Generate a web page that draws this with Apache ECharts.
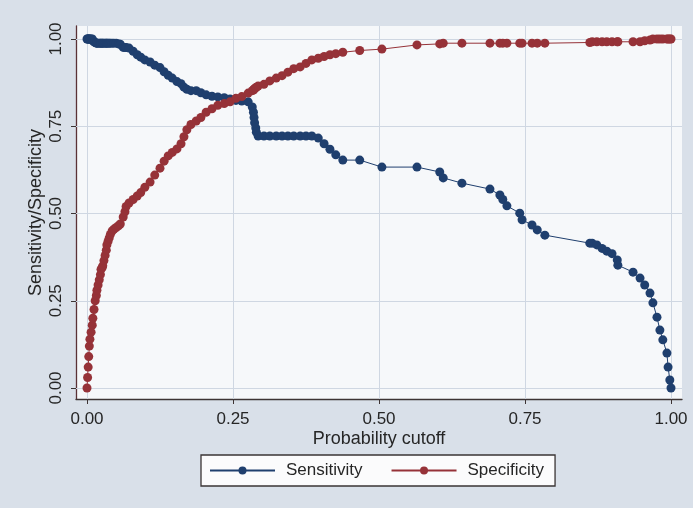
<!DOCTYPE html>
<html style="height: 100%">
<head>
<meta charset="utf-8">
<script src="https://cdn.jsdelivr.net/npm/echarts@6/dist/echarts.min.js"></script>
</head>
<body style="height: 100%; margin: 0; background: #d9e0e9">
<div id="container" style="width: 693px; height: 508px"></div>
<script>
// probability cutoffs (shared by both curves)
var cutoffs = [
  0.000, 0.001, 0.002, 0.003, 0.004, 0.005, 0.007, 0.009, 0.010, 0.012,
  0.014, 0.016, 0.017, 0.019, 0.021, 0.023, 0.024, 0.026, 0.027, 0.029,
  0.031, 0.033, 0.034, 0.036, 0.038, 0.040, 0.043, 0.046, 0.050, 0.054,
  0.057, 0.062, 0.065, 0.067, 0.072, 0.079, 0.086, 0.092, 0.099, 0.108,
  0.116, 0.125, 0.132, 0.139, 0.146, 0.154, 0.161, 0.166, 0.171, 0.178,
  0.187, 0.195, 0.204, 0.214, 0.224, 0.235, 0.245, 0.255, 0.265, 0.276,
  0.283, 0.285, 0.286, 0.287, 0.289, 0.290, 0.293, 0.303, 0.313, 0.324,
  0.334, 0.344, 0.354, 0.365, 0.375, 0.385, 0.396, 0.406, 0.416, 0.426,
  0.438, 0.467, 0.505, 0.565, 0.604, 0.610, 0.642, 0.690, 0.707, 0.712,
  0.719, 0.741, 0.745, 0.762, 0.771, 0.784, 0.861, 0.865, 0.873, 0.882,
  0.890, 0.899, 0.908, 0.909, 0.935, 0.947, 0.955, 0.964, 0.969, 0.976,
  0.981, 0.986, 0.993, 0.995, 0.998, 1.000
];

var sensitivity = [
  1.000, 1.000, 1.000, 1.000, 1.000, 1.000, 1.000, 1.000, 0.995, 0.992,
  0.990, 0.988, 0.988, 0.988, 0.988, 0.988, 0.988, 0.988, 0.988, 0.988,
  0.988, 0.988, 0.988, 0.988, 0.988, 0.988, 0.988, 0.988, 0.988, 0.986,
  0.985, 0.976, 0.976, 0.976, 0.974, 0.965, 0.955, 0.948, 0.940, 0.934,
  0.925, 0.918, 0.906, 0.896, 0.888, 0.878, 0.872, 0.862, 0.856, 0.852,
  0.852, 0.846, 0.840, 0.836, 0.834, 0.832, 0.828, 0.824, 0.822, 0.820,
  0.805, 0.790, 0.775, 0.760, 0.745, 0.733, 0.722, 0.722, 0.722, 0.722,
  0.722, 0.722, 0.722, 0.722, 0.722, 0.722, 0.716, 0.700, 0.684, 0.668,
  0.653, 0.653, 0.633, 0.633, 0.619, 0.602, 0.587, 0.570, 0.553, 0.540,
  0.522, 0.501, 0.482, 0.467, 0.453, 0.438, 0.415, 0.415, 0.410, 0.400,
  0.392, 0.385, 0.367, 0.352, 0.332, 0.315, 0.295, 0.272, 0.244, 0.203,
  0.166, 0.138, 0.100, 0.060, 0.023, 0.000
];

var specificity = [
  0.000, 0.030, 0.060, 0.090, 0.120, 0.140, 0.160, 0.180, 0.200, 0.225,
  0.250, 0.265, 0.280, 0.295, 0.310, 0.325, 0.340, 0.345, 0.350, 0.365,
  0.380, 0.395, 0.410, 0.420, 0.430, 0.440, 0.450, 0.455, 0.460, 0.465,
  0.470, 0.490, 0.505, 0.520, 0.530, 0.540, 0.550, 0.560, 0.575, 0.590,
  0.610, 0.630, 0.650, 0.665, 0.675, 0.685, 0.700, 0.720, 0.740, 0.755,
  0.765, 0.775, 0.790, 0.800, 0.810, 0.815, 0.820, 0.830, 0.835, 0.845,
  0.852, 0.854, 0.856, 0.858, 0.860, 0.862, 0.865, 0.870, 0.880, 0.888,
  0.895, 0.905, 0.915, 0.920, 0.930, 0.940, 0.945, 0.950, 0.955, 0.958,
  0.962, 0.967, 0.971, 0.983, 0.986, 0.988, 0.988, 0.988, 0.988, 0.988,
  0.988, 0.988, 0.988, 0.988, 0.988, 0.988, 0.990, 0.992, 0.992, 0.992,
  0.992, 0.992, 0.992, 0.992, 0.992, 0.992, 0.995, 0.997, 1.000, 1.000,
  1.000, 1.000, 1.000, 1.000, 1.000, 1.000
];

var tickValues = [0, 0.25, 0.5, 0.75, 1];

var font = '"Liberation Sans", Arial, sans-serif';
var textColor = '#262626';
var navy = '#1f3f6e';
var maroon = '#963238';

// Stata style: plot region a bit wider than 0..1
var xMin = -11 / 584, xMax = 1 + 11 / 584;
var yMin = -11 / 349, yMax = 1 + 13 / 349;

function pairs(ys) {
  return cutoffs.map(function (c, i) { return [c, ys[i]]; });
}

var gridLines = tickValues.map(function (v) { return { xAxis: v }; })
  .concat(tickValues.map(function (v) { return { yAxis: v }; }));

var myChart = echarts.init(document.getElementById('container'));

var option = {
  animation: false,
  backgroundColor: '#d9e0e9',
  textStyle: { fontFamily: font },
  grid: {
    left: 76, top: 26, width: 606, height: 373,
    show: true, backgroundColor: '#f6f8fa', borderWidth: 0
  },
  xAxis: {
    type: 'value', min: xMin, max: xMax,
    name: 'Probability cutoff', nameLocation: 'middle', nameGap: 31,
    nameMoveOverlap: false,
    nameTextStyle: { color: textColor, fontSize: 18, fontFamily: font },
    axisLine: { show: true, onZero: false, lineStyle: { color: '#3d3434', width: 1.3 } },
    axisTick: { show: true, length: 5, customValues: tickValues, lineStyle: { color: '#3d3434' } },
    axisLabel: {
      customValues: tickValues, color: textColor, fontSize: 17, margin: 12,
      formatter: function (v) { return v.toFixed(2); }
    },
    splitLine: { show: false }
  },
  yAxis: {
    type: 'value', min: yMin, max: yMax,
    name: 'Sensitivity/Specificity', nameLocation: 'middle', nameGap: 31,
    nameMoveOverlap: false,
    nameTextStyle: { color: textColor, fontSize: 18, fontFamily: font },
    axisLine: { show: true, onZero: false, lineStyle: { color: '#5a3236', width: 1.3 } },
    axisTick: { show: true, length: 5, customValues: tickValues, lineStyle: { color: '#3d3434' } },
    axisLabel: {
      customValues: tickValues, color: textColor, fontSize: 17, rotate: 90, margin: 11,
      formatter: function (v) { return v.toFixed(2); }
    },
    splitLine: { show: false }
  },
  legend: {
    left: 201, top: 455,
    padding: [7, 11, 7, 8],
    itemGap: 28,
    itemWidth: 65, itemHeight: 10,
    backgroundColor: '#fbfbfc', borderColor: '#3a3434', borderWidth: 1.3,
    textStyle: { color: textColor, fontSize: 17, padding: [0, 0, 0, 6] },
    data: ['Sensitivity', 'Specificity']
  },
  series: [
    {
      name: 'Sensitivity', type: 'line',
      data: pairs(sensitivity),
      symbol: 'circle', symbolSize: 9,
      itemStyle: { color: navy },
      lineStyle: { color: navy, width: 1 },
      z: 3,
      markLine: {
        silent: true, symbol: 'none', label: { show: false },
        lineStyle: { color: '#cfd7e2', width: 1, type: 'solid' },
        data: gridLines, z: 1
      }
    },
    {
      name: 'Specificity', type: 'line',
      data: pairs(specificity),
      symbol: 'circle', symbolSize: 9,
      itemStyle: { color: maroon },
      lineStyle: { color: maroon, width: 1 },
      z: 4
    }
  ]
};

myChart.setOption(option);
</script>
</body>
</html>
